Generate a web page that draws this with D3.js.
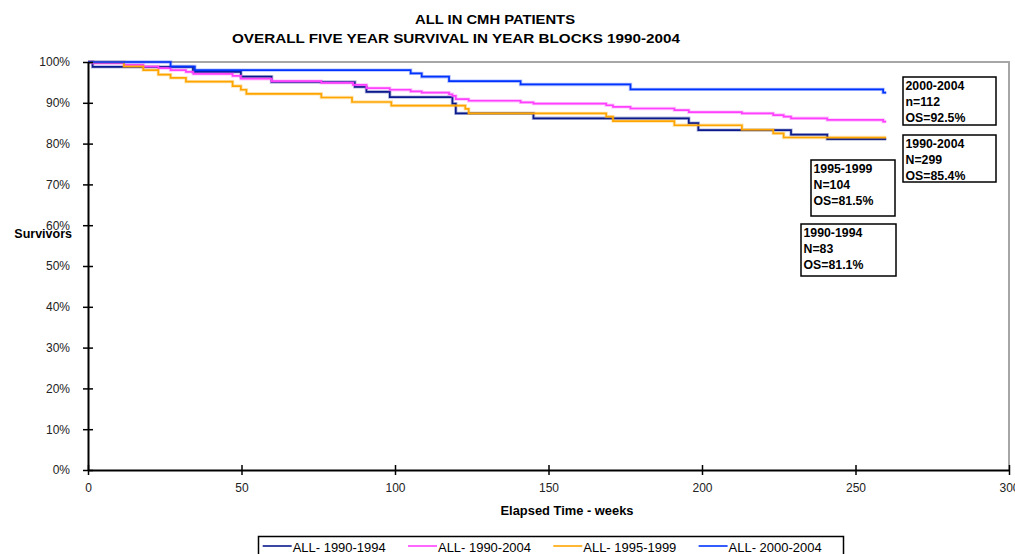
<!DOCTYPE html>
<html>
<head>
<meta charset="utf-8">
<script src="https://cdn.jsdelivr.net/npm/d3@7"></script>
<style>
  body { margin: 0; background: #fff; }
  svg { font-family: Arial, "Liberation Sans", sans-serif; }
</style>
</head>
<body>
<div id="chart"></div>
<script>
// series (weeks, survival %)
const seriesNames = ["ALL- 1990-1994", "ALL- 1990-2004", "ALL- 1995-1999", "ALL- 2000-2004"];
const colors = ["#0a1a8c", "#ff40ff", "#ffa500", "#0033ff"];

const weeks9094 = [0, 1.5, 34.2, 49.8, 59.8, 86.9, 90.7, 98.3, 118.7, 119.8, 145.1, 195.7, 198.8, 229, 240.8, 260];
const surv9094 = [100, 98.8, 97.6, 96.4, 95.1, 93.9, 92.7, 91.4, 89.8, 87.4, 86.2, 85.0, 83.3, 82.2, 81.1, 81.1];

const weeks9004 = [0, 1.5, 11.7, 18, 22.9, 26.9, 31.9, 34.3, 47.1, 49.8, 59.8, 76, 86.3, 90.7, 98.3, 105.1, 108.7, 117.6, 118.7, 119.8, 124, 140.9, 145.1, 168.8, 171, 176.7, 191, 195.7, 213, 223.2, 226.6, 229, 240.8, 259, 260];
const surv9004 = [100, 99.7, 99.3, 98.9, 98.5, 98.0, 97.6, 97.1, 96.6, 95.9, 95.3, 94.9, 94.4, 93.6, 93.2, 92.8, 92.5, 92.1, 91.7, 90.9, 90.5, 90.1, 89.8, 89.4, 89.0, 88.6, 88.2, 87.7, 87.4, 87.0, 86.6, 86.2, 85.8, 85.4, 85.4];

const weeks9599 = [0, 11.7, 18, 22.9, 26.9, 31.9, 47.1, 49.8, 51.6, 76, 86, 98.8, 122.9, 124, 168.8, 171, 191, 213, 223.2, 226.6, 260];
const surv9599 = [100, 98.9, 98.0, 96.9, 96.1, 95.2, 94.1, 93.2, 92.2, 91.3, 90.2, 89.3, 88.5, 87.4, 86.6, 85.5, 84.5, 83.4, 82.5, 81.5, 81.5];

const weeks0004 = [0, 26.9, 34.8, 105.1, 108.7, 117.6, 140.9, 176.7, 259, 260];
const surv0004 = [100, 98.9, 98.0, 97.2, 96.4, 95.3, 94.5, 93.3, 92.5, 92.5];

const xTicks = [0, 50, 100, 150, 200, 250, 300];
const yTicks = [0, 10, 20, 30, 40, 50, 60, 70, 80, 90, 100];

const boxTexts = [
  ["2000-2004", "n=112", "OS=92.5%"],
  ["1990-2004", "N=299", "OS=85.4%"],
  ["1995-1999", "N=104", "OS=81.5%"],
  ["1990-1994", "N=83", "OS=81.1%"]
];

const allWeeks = [weeks9094, weeks9004, weeks9599, weeks0004];
const allSurv = [surv9094, surv9004, surv9599, surv0004];

// layout
const width = 1015, height = 554;
const plot = { left: 88, right: 1009, top: 62, bottom: 470 };
const boxLayout = [
  { x: 903, y: 77, w: 93, h: 48 },
  { x: 903, y: 135, w: 93, h: 47 },
  { x: 811, y: 160, w: 84, h: 56 },
  { x: 801, y: 224, w: 95, h: 52 }
];

const svg = d3.select("#chart").append("svg")
  .attr("width", width)
  .attr("height", height);

const x = d3.scaleLinear().domain([0, 300]).range([plot.left, plot.right]);
const y = d3.scaleLinear().domain([0, 100]).range([plot.bottom, plot.top]);

// titles (reference text is a bit wide, so stretch to its measured length)
svg.append("text").attr("x", 495).attr("y", 24)
  .attr("text-anchor", "middle").style("font-size", "12.5px").style("font-weight", "bold")
  .attr("textLength", 160).attr("lengthAdjust", "spacingAndGlyphs")
  .text("ALL IN CMH PATIENTS");
svg.append("text").attr("x", 456).attr("y", 43)
  .attr("text-anchor", "middle").style("font-size", "12.5px").style("font-weight", "bold")
  .attr("textLength", 448).attr("lengthAdjust", "spacingAndGlyphs")
  .text("OVERALL FIVE YEAR SURVIVAL IN YEAR BLOCKS 1990-2004");

// grey frame top / right
svg.append("path")
  .attr("d", `M${plot.left},${plot.top}H${plot.right}V${plot.bottom}`)
  .attr("fill", "none").attr("stroke", "#a6a6a6").attr("stroke-width", 2);

// survival curves
const line = d3.line()
  .x((d) => x(d[0]))
  .y((d) => y(d[1]))
  .curve(d3.curveStepAfter);

seriesNames.forEach((name, i) => {
  const pts = allWeeks[i].map((w, j) => [w, allSurv[i][j]]);
  svg.append("path")
    .datum(pts)
    .attr("d", line)
    .attr("fill", "none")
    .attr("stroke", colors[i])
    .attr("stroke-opacity", 0.3)
    .attr("stroke-width", 3.4);
  svg.append("path")
    .datum(pts)
    .attr("d", line)
    .attr("fill", "none")
    .attr("stroke", colors[i])
    .attr("stroke-width", 1.7);
});

// axes
const yAxis = svg.append("g")
  .attr("transform", `translate(${plot.left},0)`)
  .call(d3.axisLeft(y).tickValues(yTicks).tickFormat((d) => d + "%")
    .tickSizeInner(5).tickSizeOuter(0).tickPadding(13));
yAxis.selectAll(".tick line").attr("x1", 5).attr("stroke-width", 1.5);
yAxis.select(".domain").attr("stroke-width", 2);
yAxis.selectAll("text").style("font-size", "12px").attr("fill", "#222");

const xAxis = svg.append("g")
  .attr("transform", `translate(0,${plot.bottom})`)
  .call(d3.axisBottom(x).tickValues(xTicks)
    .tickSizeInner(5).tickSizeOuter(0).tickPadding(8));
xAxis.selectAll(".tick line").attr("y1", -5).attr("stroke-width", 1.5);
xAxis.select(".domain").attr("stroke-width", 2);
xAxis.selectAll("text").style("font-size", "12px").attr("fill", "#222");

// axis titles
svg.append("text").attr("x", 72).attr("y", 238)
  .attr("text-anchor", "end").style("font-size", "12.5px").style("font-weight", "bold")
  .text("Survivors");
svg.append("text").attr("x", 567).attr("y", 515)
  .attr("text-anchor", "middle").style("font-size", "12.5px").style("font-weight", "bold")
  .attr("textLength", 133).attr("lengthAdjust", "spacingAndGlyphs")
  .text("Elapsed Time - weeks");

// annotation boxes
boxTexts.forEach((lines, i) => {
  const b = boxLayout[i];
  const g = svg.append("g").attr("transform", `translate(${b.x},${b.y})`);
  g.append("rect").attr("width", b.w).attr("height", b.h)
    .attr("fill", "#fff").attr("stroke", "#000").attr("stroke-width", 1.5);
  lines.forEach((t, k) => {
    g.append("text").attr("x", 2.5).attr("y", 12.5 + k * 16.3)
      .style("font-size", "12.3px").style("font-weight", "bold")
      .text(t);
  });
});

// legend
svg.append("rect")
  .attr("x", 258.5).attr("y", 536.5).attr("width", 585).attr("height", 30)
  .attr("fill", "#fff").attr("stroke", "#000").attr("stroke-width", 1.5);

const legend = svg.selectAll(".legend")
  .data(seriesNames)
  .enter()
  .append("g")
  .attr("class", "legend")
  .attr("transform", (_, i) => `translate(${262.7 + i * 145.3}, 546)`);

legend.append("line")
  .attr("x1", 0).attr("x2", 29)
  .attr("stroke", (_, i) => colors[i])
  .attr("stroke-width", 1.6);

legend.append("text")
  .attr("x", 30).attr("y", 5.5)
  .style("font-size", "12.5px")
  .attr("textLength", 93).attr("lengthAdjust", "spacingAndGlyphs")
  .text((d) => d);
</script>
</body>
</html>
